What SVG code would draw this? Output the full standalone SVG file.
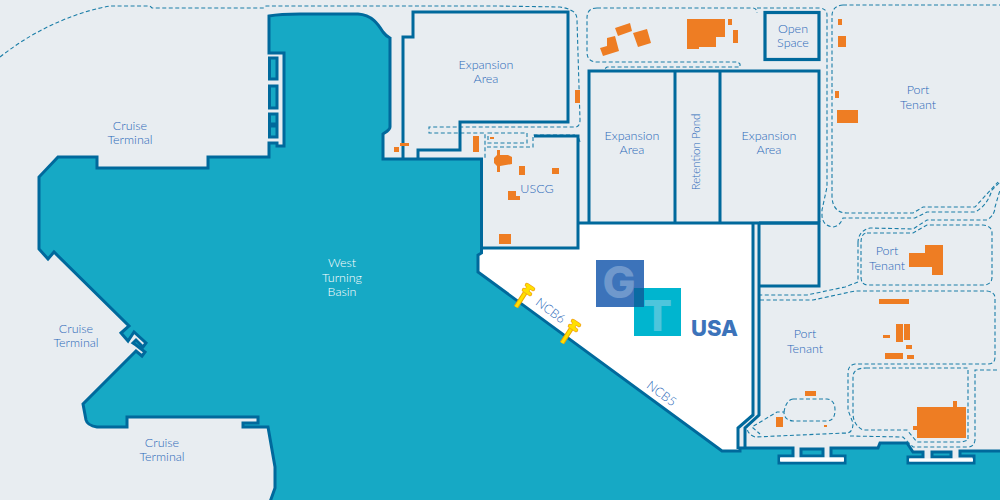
<svg xmlns="http://www.w3.org/2000/svg" width="1000" height="500" viewBox="0 0 1000 500">
<style>
.ln{fill:none;stroke:#00699c;stroke-width:3;stroke-linejoin:miter}
.win{fill:#16a9c5;stroke:#00699c;stroke-width:3}
.d{fill:none;stroke:#1b7ea8;stroke-width:1.1;stroke-dasharray:4 2.5}
.b{fill:#ee7d23}
text{font-family:"Lato","Liberation Sans",sans-serif;font-weight:300;font-size:12.5px;fill:#2a68b8;text-anchor:middle}
.w{fill:#fff}
</style>
<defs>
<g id="bollard"><path d="M0 0L9 -14" stroke="#eda500" stroke-width="5" fill="none"/><path d="M0 0L9 -14" stroke="#ffe000" stroke-width="3" fill="none"/><path d="M8 -17L14 -13M11 -22L17 -18" stroke="#f0a020" stroke-width="4.500" stroke-linecap="round" fill="none"/><path d="M10 -15L13 -20" stroke="#f0a020" stroke-width="5" fill="none"/><path d="M8 -17L14 -13M11 -22L17 -18" stroke="#ffe000" stroke-width="3" stroke-linecap="round" fill="none"/><path d="M10 -15L13 -20" stroke="#ffe000" stroke-width="4" fill="none"/></g>
</defs>
<rect width="1000" height="500" fill="#e8edf1"/>
<g id="land-white"><path d="M482 248H578V223H753V415L738 428V451H722L478 272V255L482 253Z" fill="#fff"/></g>
<g id="water"><path fill="#16a9c5" stroke="#00699c" stroke-width="3" d="M269 16Q280 14 300 14H358C372 15 378 24 383 32C386 36 388 37 390 38V127C390 130 386 132 383 134V159H481.500V253L478 255V272L722 451H740V448H793V456H779V463H845V456H831V448H878L880 443H907L913 452H923V457H908V463H974V456H960V451H1002V502H270L275 488V467L268 427H243V423H258V417H127V427H97C91 426 87 424 86 420L83 404L136 351L142 356L145 352L136 345L133 343L136 340L143 347L146 343L134 332L128 341L121 333L129 326L54 252L48 259L39 249V177L58 157H97V168H208V157H269V143H277V146H284V53H269Z"/>
<path class="win" d="M269.500 58H277V79H269.500ZM269.500 86H277V108H269.500ZM269.500 114H277V124H269.500ZM269.500 126H277V137H269.500Z"/>
<path class="win" d="M801 449H823V456H801ZM932 452H951V457H932Z"/>
<path d="M780 457.500H844V461.500H780ZM909 458.500H973V461.500H909Z" fill="#fff"/>
</g>
<g id="connectors">
<path class="d" d="M0 57C40 25 85 10 110 6H150L152 8H264L266 6H497L560 7Q567 8 570 10Q577 12 577 20L580 120Q580 127 575 127H429V133H485V158"/>
<path class="d" d="M488 133H527V143H488ZM487 147H533V135H575M580 142L578 136"/>
<path class="d" d="M597 8H752Q757 8 757 13"/>
<path class="d" d="M597 8Q587 8 587 18V52Q587 62 597 62H738L740 64V67H607L603 70"/>
<path class="d" d="M757 8H820Q827 9 827 15V187L822 210V216Q823 226 833 227Q840 226 843 218H915L927 212H975Q987 206 992 190L1000 182"/>
<path class="d" d="M843 5H1000M843 5Q832 6 832 16V197Q833 213 847 213H913L923 207H975L998 182"/>
<path class="d" d="M867 233H913L927 225H983Q992 226 992 233V277Q992 285 983 285H868Q861 285 861 277V243Q861 233 867 233Z"/>
<path class="d" d="M858 243Q858 231 870 228L913 229L927 220H987Q995 215 995 207L1000 190M858 243V282L845 287L807 295H760"/>
<path class="d" d="M760 300H813L855 291H987Q995 292 995 298V357Q995 364 988 364H855Q848 365 848 373V410L853 423Q853 434 845 433L755 437Q747 434 747 427"/>
<path class="d" d="M793 399H827Q835 400 835 410Q835 420 828 421H793Q784 420 784 412H777L752 427L760 434"/>
<path class="d" d="M793 399Q786 400 784 412"/>
<path class="d" d="M866 368H968V440L962 442H917L907 430H863Q853 425 853 413V377Q853 368 866 368Z"/>
<path class="d" d="M997 370H975V440Q974 447 968 447H913L903 437L850 436"/>
</g>
<g id="expansion-1"><path class="ln" d="M403 159V37H413V12H568V122H460V150H418V159"/></g>
<g id="uscg"><path class="ln" d="M534 136H578V248H482"/></g>
<g id="bigblock"><path class="ln" d="M578 223H819M589 222V71H819V222M675 71V222M720 71V222"/></g>
<g id="lower-block"><path class="ln" d="M759 223H819V286H759"/><path class="ln" d="M753 223V415L738 428V449M759 223V415L745 428V449"/></g>
<g id="open-space"><rect x="765" y="12.500" width="54" height="47" fill="none" stroke="#00699c" stroke-width="3.200"/></g>
<g id="buildings">
<path class="b" d="M615 28L630 23L632 31L618 36ZM633 33L647 29L651 43L638 47ZM600 48L607 46L607 38L615 36L619 51L603 56ZM687 19H725V37H716V47H699V49H687Z"/>
<path class="b" d="M728 19h4v6h-4ZM733 30h5v13h-5ZM575 90h5v13h-5ZM838 19h4v6h-4ZM838 36h8v11h-8ZM835 91h4v7h-4ZM837 110h21v13h-21Z"/>
<path class="b" d="M394 147h5v5h-5ZM400 143h9v3h-9ZM473 136h6v16h-6ZM490 137h4v2h-4ZM519 166h6v9h-6ZM552 168h7v6h-7ZM508 191h8v5h-8ZM508 196h12v4h-12ZM499 234h12v10h-12Z"/>
<path class="b" d="M497 150H500V155H508L512 157V164L500 166V172H497V166L494 163V158L497 155Z"/>
<path class="b" d="M925 245H943V275H932V267H909V253H925ZM879 299h30v5h-30ZM896 324h7v18h-7ZM904 324h6v16h-6ZM883 335h7v3h-7ZM906 345h6v4h-6ZM885 353h18v6h-18ZM907 355h7v4h-7ZM805 391h11v5h-11ZM776 417h7v10h-7ZM824 425h3v2h-3Z"/>
<path class="b" d="M917 407H953V401H957V407H966V438H917V430H913V426H917Z"/>
</g>
<g id="logo">
<rect x="596" y="260" width="48" height="47" fill="#3c73ba"/>
<rect x="634" y="288" width="47" height="48" fill="#00b5cf"/>
<rect x="634" y="288" width="10" height="19" fill="#0a6ba3"/>
<text x="619" y="298" style="font-family:'Inter','Liberation Sans',sans-serif;font-weight:800;font-size:44px;fill:#6f98cc">G</text>
<text x="657.500" y="331" style="font-family:'Inter','Liberation Sans',sans-serif;font-weight:800;font-size:43px;fill:#4ec5dc">T</text>
<text x="714.500" y="336" style="font-family:'Inter','Liberation Sans',sans-serif;font-weight:800;font-size:22px;fill:#3c73ba">USA</text>
</g>
<g id="bollards"><use href="#bollard" x="516" y="307"/><use href="#bollard" x="562" y="343"/></g>
<g id="labels">
<text x="130" y="130">Cruise</text><text x="130" y="144">Terminal</text>
<text x="76" y="333">Cruise</text><text x="76" y="347">Terminal</text>
<text x="162" y="447">Cruise</text><text x="162" y="461">Terminal</text>
<text class="w" x="342" y="267">West</text><text class="w" x="342" y="282">Turning</text><text class="w" x="342" y="296">Basin</text>
<text x="486" y="69">Expansion</text><text x="486" y="83">Area</text>
<text x="632" y="140">Expansion</text><text x="632" y="154">Area</text>
<text x="769" y="140">Expansion</text><text x="769" y="154">Area</text>
<text x="537" y="193">USCG</text>
<text x="793" y="33">Open</text><text x="793" y="47">Space</text>
<text x="918" y="94">Port</text><text x="918" y="109">Tenant</text>
<text x="887" y="255">Port</text><text x="887" y="270">Tenant</text>
<text x="805" y="338">Port</text><text x="805" y="353">Tenant</text>
<text transform="translate(700 152) rotate(-90)" x="0" y="0" style="font-size:11.500px">Retention Pond</text>
<text transform="translate(548 314) rotate(37)" x="0" y="0">NCB6</text>
<text transform="translate(659 397) rotate(37)" x="0" y="0">NCB5</text>
</g>
</svg>
